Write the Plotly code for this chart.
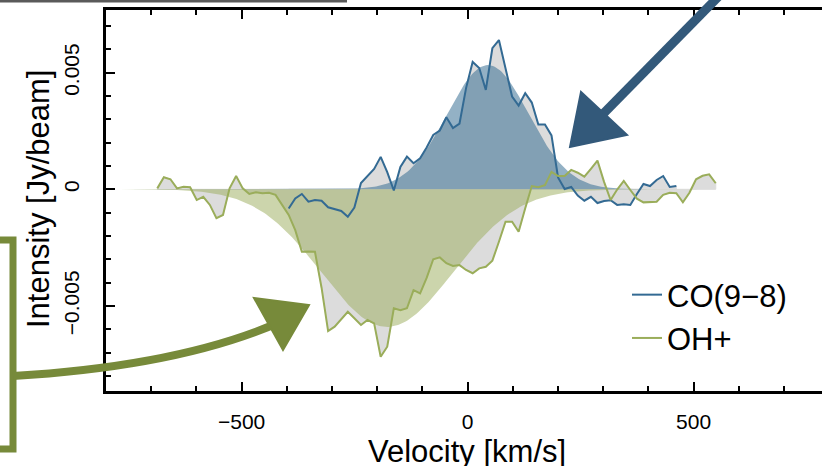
import numpy as np
import plotly.graph_objects as go

# ---------------- data ----------------
velocity_oh = [-686.5, -672.0, -657.4, -642.9, -628.4, -613.8, -599.3, -584.8, -570.2, -555.7,
               -541.2, -526.6, -512.1, -497.5, -483.0, -468.5, -453.9, -439.4, -424.9, -410.3,
               -395.8, -381.3, -366.7, -352.2, -337.7, -323.1, -308.6, -294.1, -279.5, -265.0,
               -250.5, -235.9, -221.4, -206.8, -192.3, -177.8, -163.2, -148.7, -134.2, -119.6,
               -105.1, -90.6, -76.0, -61.5, -47.0, -32.4, -17.9, -3.4, 11.2, 25.7,
               40.3, 54.8, 69.3, 83.9, 98.4, 112.9, 127.5, 142.0, 156.5, 171.1,
               185.6, 200.1, 214.7, 229.2, 243.7, 258.3, 272.8, 287.3, 301.9, 316.4,
               330.9, 345.5, 360.0, 374.6, 389.1, 403.6, 418.2, 432.7, 447.2, 461.8,
               476.3, 490.8, 505.4, 519.9, 534.4, 549.0]
intensity_oh_mjy = [0.04, 0.52, 0.43, 0.04, 0.11, 0.09, -0.46, -0.32, -0.67, -1.24,
                    -1.10, 0.04, 0.57, 0.04, -0.20, -0.13, -0.17, -0.15, -0.24, -0.67,
                    -1.10, -1.75, -2.68, -2.67, -2.68, -4.22, -6.08, -5.89, -5.56, -5.25,
                    -5.53, -5.82, -5.60, -5.75, -7.18, -6.75, -5.10, -5.18, -5.10, -4.32,
                    -4.46, -3.80, -3.00, -2.92, -3.17, -3.29, -3.25, -3.46, -3.60, -3.39,
                    -3.32, -3.06, -2.25, -1.39, -1.39, -1.82, -0.81, 0.14, 0.09, 0.18,
                    0.75, 0.57, 0.57, 0.83, 0.71, 0.54, 0.88, 1.23, 0.32, -0.46,
                    -0.01, 0.36, -0.03, -0.40, -0.56, -0.54, -0.53, -0.24, -0.15, -0.17,
                    -0.56, -0.15, 0.43, 0.58, 0.64, 0.26]

velocity_co = [-395.8, -381.3, -366.7, -352.2, -337.7, -323.1, -308.6, -294.1, -279.5, -265.0,
               -250.5, -235.9, -221.4, -206.8, -192.3, -177.8, -163.2, -148.7, -134.2, -119.6,
               -105.1, -90.6, -76.0, -61.5, -47.0, -32.4, -17.9, -3.4, 11.2, 25.7,
               40.3, 54.8, 69.3, 83.9, 98.4, 112.9, 127.5, 142.0, 156.5, 171.1,
               185.6, 200.1, 214.7, 229.2, 243.7, 258.3, 272.8, 287.3, 301.9, 316.4,
               330.9, 345.5, 360.0, 374.6, 389.1, 403.6, 418.2, 432.7, 447.2, 461.8]
intensity_co_mjy = [-0.82, -0.39, -0.20, -0.53, -0.46, -0.49, -0.77, -0.85, -0.93, -1.18,
                    -0.78, 0.27, 0.57, 0.87, 1.39, 0.74, -0.05, 0.96, 1.40, 1.12,
                    1.33, 1.79, 2.33, 2.52, 3.09, 2.63, 2.82, 4.34, 5.46, 5.20,
                    4.26, 6.05, 6.40, 5.16, 3.98, 3.59, 4.12, 3.72, 2.78, 2.78,
                    2.31, 0.51, 0.01, 0.10, -0.27, -0.49, -0.32, -0.59, -0.50, -0.47,
                    -0.67, -0.64, -0.67, -0.20, 0.23, 0.14, 0.40, 0.57, 0.10, 0.14]

# Gaussian fit parameters (amplitude [Jy/beam], centre, sigma [km/s])
fit_co = (0.00533, 45.0, 90.0)
fit_oh = (-0.0059, -178.0, 145.0)
fit_range = (-770.0, 770.0)

series_names = ["CO(9\u22128)", "OH+"]
line_colors = ["#336a93", "#9aad5a"]
fit_fills = ["rgba(40,100,140,0.5)", "rgba(154,172,90,0.5)"]
gray_fill = "#dcdcdc"

x_tickvals = [-500, 0, 500]
x_ticktext = ["\u2212500", "0", "500"]
y_tickvals = [-0.005, 0, 0.005]
y_ticktext = ["\u22120.005", "0", "0.005"]

FONT = "Liberation Sans, Arial, Helvetica, sans-serif"

# ---------------- layout geometry ----------------
W, H = 822, 466
L, R, T, B = 106, 0, 10, 75
PW, PH = W - L - R, H - T - B


def px(x):
    return (x - L) / PW


def py(y):
    return 1 - (y - T) / PH


co_I = [v / 1000 for v in intensity_co_mjy]
oh_I = [v / 1000 for v in intensity_oh_mjy]

fig = go.Figure()

# grey polygons between spectrum and zero
for vel, inten in [(velocity_co, co_I), (velocity_oh, oh_I)]:
    xs = list(vel) + [vel[-1], vel[0], vel[0]]
    ys = list(inten) + [0, 0, inten[0]]
    fig.add_trace(go.Scatter(x=xs, y=ys, mode="lines", fill="toself", fillcolor=gray_fill,
                             line=dict(color=gray_fill, width=1), showlegend=False,
                             hoverinfo="skip"))

# gaussian fits
vfit = np.linspace(fit_range[0], fit_range[1], 400)
for (amp, mu, sig), fc in zip([fit_co, fit_oh], fit_fills):
    g = amp * np.exp(-0.5 * ((vfit - mu) / sig) ** 2)
    xs = list(vfit) + [vfit[-1], vfit[0]]
    ys = list(g) + [0, 0]
    fig.add_trace(go.Scatter(x=xs, y=ys, mode="lines", fill="toself", fillcolor=fc,
                             line=dict(width=0), showlegend=False, hoverinfo="skip"))

# spectra lines
for vel, inten, name, col in [(velocity_co, co_I, series_names[0], line_colors[0]),
                              (velocity_oh, oh_I, series_names[1], line_colors[1])]:
    fig.add_trace(go.Scatter(x=vel, y=inten, mode="lines", name=name,
                             line=dict(color=col, width=2)))

axis_common = dict(showline=True, linecolor="black", linewidth=3, ticks="inside",
                   tickcolor="black", tickwidth=2, ticklen=9, showgrid=False,
                   zeroline=False, tickfont=dict(family=FONT, size=21, color="black"))

fig.update_xaxes(range=[-800, -800 + PW / 0.452], tickvals=x_tickvals, ticktext=x_ticktext,
                 mirror="ticks", ticklabelstandoff=10,
                 minor=dict(ticks="inside", ticklen=5, tickwidth=2, tickcolor="black", dtick=100,
                            tick0=0, showgrid=False),
                 **axis_common)
fig.update_yaxes(range=[-0.008649, 0.007689], tickvals=y_tickvals, ticktext=y_ticktext,
                 tickangle=-90, ticklabelstandoff=16,
                 minor=dict(ticks="inside", ticklen=5, tickwidth=2, tickcolor="black", dtick=0.001,
                            tick0=0, showgrid=False),
                 **axis_common)

annotations = [
    dict(text="Velocity [km/s]", x=px(467), y=py(451), xref="paper", yref="paper",
         showarrow=False, font=dict(family=FONT, size=31, color="black"),
         xanchor="center", yanchor="middle"),
    dict(text="Intensity [Jy/beam]", x=px(38), y=py(199), xref="paper", yref="paper",
         showarrow=False, textangle=-90, font=dict(family=FONT, size=31, color="black"),
         xanchor="center", yanchor="middle"),
]

blue_arrow = "#33597a"
green_arrow = "#778a3a"
shapes = [
    # blue sketched arrow
    dict(type="line", xref="paper", yref="paper", x0=px(721), y0=py(-6), x1=px(603), y1=py(114),
         line=dict(color=blue_arrow, width=9)),
    dict(type="path", xref="paper", yref="paper",
         path=f"M {px(581)},{py(92)} L {px(570)},{py(147)} L {px(627)},{py(135)} Z",
         fillcolor=blue_arrow, line=dict(color=blue_arrow, width=2)),
    # green bracket + arrow
    dict(type="path", xref="paper", yref="paper",
         path=f"M {px(-2)},{py(240)} L {px(13)},{py(240)} L {px(13)},{py(449)} L {px(-2)},{py(449)}",
         line=dict(color=green_arrow, width=7)),
    dict(type="path", xref="paper", yref="paper",
         path=f"M {px(13)},{py(376)} Q {px(180)},{py(366)} {px(280)},{py(322)}",
         line=dict(color=green_arrow, width=8)),
    dict(type="path", xref="paper", yref="paper",
         path=f"M {px(254)},{py(298)} L {px(309)},{py(305)} L {px(283)},{py(350)} Z",
         fillcolor=green_arrow, line=dict(color=green_arrow, width=2)),
    # grey sketch stroke at the very top
    dict(type="line", xref="paper", yref="paper", x0=px(0), y0=py(1), x1=px(347), y1=py(1),
         line=dict(color="#5a5a5a", width=3)),
]

fig.update_layout(
    width=W, height=H,
    margin=dict(l=L, r=R, t=T, b=B, pad=0),
    paper_bgcolor="white", plot_bgcolor="white",
    font=dict(family=FONT, color="black"),
    showlegend=True,
    legend=dict(x=px(627), y=py(268), xanchor="left", yanchor="top",
                bgcolor="rgba(0,0,0,0)", borderwidth=0,
                font=dict(family=FONT, size=31, color="black"),
                itemwidth=30, tracegroupgap=0),
    annotations=annotations,
    shapes=shapes,
)

fig.write_html("out.html",
               config={"displayModeBar": False},
               post_script="document.body.style.margin='0';"
                           "document.body.style.overflow='hidden';")
